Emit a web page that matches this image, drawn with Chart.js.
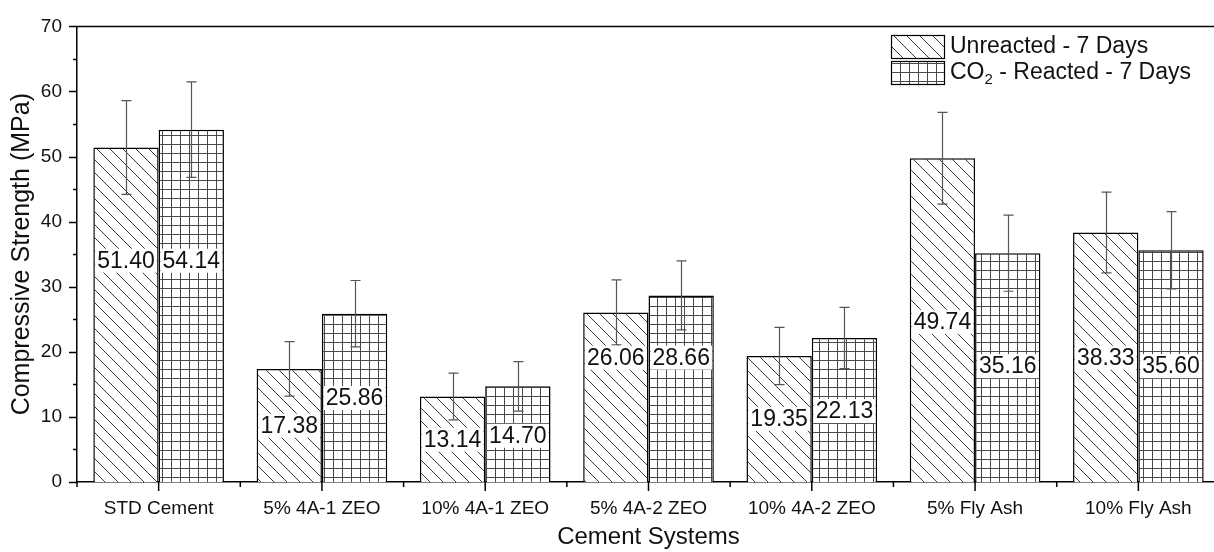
<!DOCTYPE html>
<html>
<head>
<meta charset="utf-8">
<script src="https://cdn.jsdelivr.net/npm/chart.js@4.4.1/dist/chart.umd.min.js"></script>
<style>
  html, body { margin: 0; padding: 0; background: #fff; width: 1214px; height: 552px; overflow: hidden; }
  #wrap { position: relative; width: 1226px; height: 552px; }
</style>
</head>
<body>
<div id="wrap"><canvas id="c" width="1226" height="552"></canvas></div>
<script>
// ---- data ----
const categories = ['STD Cement', '5% 4A-1 ZEO', '10% 4A-1 ZEO', '5% 4A-2 ZEO', '10% 4A-2 ZEO', '5% Fly Ash', '10% Fly Ash'];
const unreacted    = [51.40, 17.38, 13.14, 26.06, 19.35, 49.74, 38.33];
const reacted      = [54.14, 25.86, 14.70, 28.66, 22.13, 35.16, 35.60];
const unreactedErr = [7.20, 4.20, 3.60, 5.00, 4.40, 7.05, 6.20];
const reactedErr   = [7.35, 5.10, 3.80, 5.30, 4.70, 5.85, 5.95];
const yTickValues  = [0, 10, 20, 30, 40, 50, 60, 70];

// heights (in MPa) at which each value label is centred
const unreactedLabelAt = [34.0, 8.65, 6.5, 19.1, 9.7, 24.6, 19.1];
const reactedLabelAt   = [34.0, 12.9, 7.1, 19.1, 10.9, 17.8, 17.8];

const FONT = '"Liberation Sans", Arial, Helvetica, sans-serif';
const INK = '#111';

const canvas = document.getElementById('c');
const ctx = canvas.getContext('2d');

// diagonal "\" hatch fill
function hatchPattern() {
  const s = 13;
  const c = document.createElement('canvas');
  c.width = s; c.height = s;
  const g = c.getContext('2d');
  g.fillStyle = '#fff'; g.fillRect(0, 0, s, s);
  g.strokeStyle = '#3a3a3a'; g.lineWidth = 1;
  g.beginPath();
  g.moveTo(-1, -1); g.lineTo(s + 1, s + 1);
  g.moveTo(-1, s - 1); g.lineTo(1, s + 1);
  g.moveTo(s - 1, -1); g.lineTo(s + 1, 1);
  g.stroke();
  return ctx.createPattern(c, 'repeat');
}

// square grid fill
function gridPattern() {
  const s = 9;
  const c = document.createElement('canvas');
  c.width = s; c.height = s;
  const g = c.getContext('2d');
  g.fillStyle = '#fff'; g.fillRect(0, 0, s, s);
  g.strokeStyle = '#4a4a4a'; g.lineWidth = 1;
  g.beginPath();
  g.moveTo(0.5, 0); g.lineTo(0.5, s);
  g.moveTo(0, 0.5); g.lineTo(s, 0.5);
  g.stroke();
  return ctx.createPattern(c, 'repeat');
}

const hatch = hatchPattern();
const grid = gridPattern();

const errors = [unreactedErr, reactedErr];
const labelAt = [unreactedLabelAt, reactedLabelAt];

// tick marks, top frame line
const axisMarks = {
  id: 'axisMarks',
  afterDraw(chart) {
    const { ctx, chartArea: a, scales: { x, y } } = chart;
    ctx.save();
    ctx.strokeStyle = '#000';
    ctx.lineWidth = 1.5;
    ctx.beginPath();
    // y: major every 10, minor every 5
    for (let v = 0; v <= 70; v += 5) {
      const py = Math.round(y.getPixelForValue(v)) + 0.5;
      const len = v % 10 === 0 ? 8 : 4;
      ctx.moveTo(a.left - len, py); ctx.lineTo(a.left, py);
    }
    // x: long ticks at category centres, short ones at boundaries
    const n = categories.length;
    for (let i = 0; i < n; i++) {
      const cx = x.getPixelForValue(i);
      ctx.moveTo(cx, a.bottom); ctx.lineTo(cx, a.bottom + 9);
    }
    const step = (a.right - a.left) / n;
    for (let i = 0; i <= n; i++) {
      const bx = a.left + i * step;
      ctx.moveTo(bx, a.bottom); ctx.lineTo(bx, a.bottom + 5);
    }
    // frame
    ctx.moveTo(a.left, a.top); ctx.lineTo(a.right, a.top);
    ctx.lineTo(a.right, a.bottom);
    ctx.stroke();
    ctx.restore();
  }
};

// error bars and value labels
const barExtras = {
  id: 'barExtras',
  afterDatasetsDraw(chart) {
    const { ctx, scales: { y } } = chart;
    ctx.save();
    chart.data.datasets.forEach((ds, di) => {
      const meta = chart.getDatasetMeta(di);
      meta.data.forEach((bar, i) => {
        const v = ds.data[i];
        const e = errors[di][i];
        const x = Math.round(bar.x) + 0.5;
        const yt = y.getPixelForValue(v + e);
        const yb = y.getPixelForValue(v - e);
        ctx.strokeStyle = '#555';
        ctx.lineWidth = 1.2;
        ctx.beginPath();
        ctx.moveTo(x, yt); ctx.lineTo(x, yb);
        ctx.moveTo(x - 5, yt); ctx.lineTo(x + 5, yt);
        ctx.moveTo(x - 5, yb); ctx.lineTo(x + 5, yb);
        ctx.stroke();
      });
    });
    ctx.font = '23px ' + FONT;
    ctx.textAlign = 'center';
    ctx.textBaseline = 'middle';
    chart.data.datasets.forEach((ds, di) => {
      const meta = chart.getDatasetMeta(di);
      meta.data.forEach((bar, i) => {
        const txt = ds.data[i].toFixed(2);
        const w = ctx.measureText(txt).width;
        const cy = y.getPixelForValue(labelAt[di][i]);
        ctx.fillStyle = '#fff';
        ctx.fillRect(bar.x - w / 2 - 2, cy - 12, w + 4, 24);
        ctx.fillStyle = INK;
        ctx.fillText(txt, bar.x, cy + 1);
      });
    });
    ctx.restore();
  }
};

// legend with subscripted CO2
const legendBox = {
  id: 'legendBox',
  afterDraw(chart) {
    const { ctx } = chart;
    ctx.save();
    const bx = 891, bw = 53;
    const rows = [
      { y: 35, h: 23, fill: hatch },
      { y: 61, h: 23, fill: grid }
    ];
    rows.forEach(r => {
      ctx.fillStyle = r.fill;
      ctx.fillRect(bx, r.y, bw, r.h);
      ctx.strokeStyle = '#000';
      ctx.lineWidth = 1.2;
      ctx.strokeRect(bx + 0.5, r.y + 0.5, bw, r.h);
    });
    ctx.fillStyle = INK;
    ctx.textAlign = 'left';
    ctx.textBaseline = 'middle';
    ctx.font = '23px ' + FONT;
    ctx.fillText(chart.data.datasets[0].label, 950, 47);
    let tx = 950;
    ctx.fillText('CO', tx, 73);
    tx += ctx.measureText('CO').width;
    ctx.font = '15px ' + FONT;
    ctx.fillText('2', tx, 80);
    tx += ctx.measureText('2').width;
    ctx.font = '23px ' + FONT;
    ctx.fillText(' - Reacted - 7 Days', tx, 73);
    ctx.restore();
  }
};

new Chart(ctx, {
  type: 'bar',
  data: {
    labels: categories,
    datasets: [
      {
        label: 'Unreacted - 7 Days',
        data: unreacted,
        backgroundColor: hatch,
        borderColor: '#000',
        borderWidth: 1.5,
        categoryPercentage: 0.8,
        barPercentage: 1.0
      },
      {
        label: 'CO2 - Reacted - 7 Days',
        data: reacted,
        backgroundColor: grid,
        borderColor: '#000',
        borderWidth: 1.5,
        categoryPercentage: 0.8,
        barPercentage: 1.0
      }
    ]
  },
  options: {
    responsive: false,
    devicePixelRatio: 1,
    animation: false,
    layout: { padding: { left: 0, right: 6, top: 21, bottom: 0 } },
    plugins: {
      legend: { display: false },
      tooltip: { enabled: false }
    },
    scales: {
      x: {
        grid: { display: false, drawTicks: false },
        border: { display: true, color: '#000', width: 1.5 },
        ticks: { font: { family: FONT, size: 19 }, color: INK, padding: 15, maxRotation: 0 },
        title: {
          display: true, text: 'Cement Systems', color: INK,
          font: { family: FONT, size: 24 }, padding: { top: 5, bottom: 0 }
        },
        afterFit(s) { s.height = 70; }
      },
      y: {
        min: 0, max: 70,
        afterBuildTicks(s) { s.ticks = yTickValues.map(v => ({ value: v })); },
        grid: { display: false, drawTicks: false },
        border: { display: true, color: '#000', width: 1.5 },
        ticks: { font: { family: FONT, size: 19 }, color: INK, padding: 15 },
        title: {
          display: true, text: 'Compressive Strength (MPa)', color: INK,
          font: { family: FONT, size: 25 }, padding: { top: 7, bottom: 0 }
        },
        afterFit(s) { s.width = 77; }
      }
    }
  },
  plugins: [axisMarks, barExtras, legendBox]
});
</script>
</body>
</html>
